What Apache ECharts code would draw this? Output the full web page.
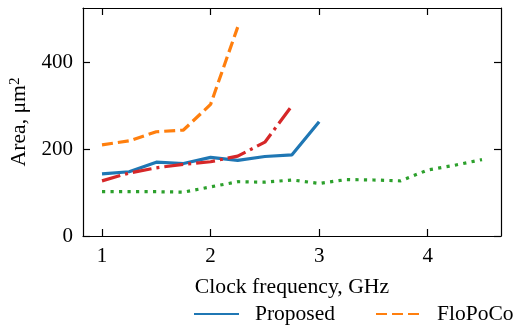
<!DOCTYPE html>
<html>
<head>
<meta charset="utf-8">
<script src="https://cdn.jsdelivr.net/npm/echarts@6/dist/echarts.min.js"></script>
<style>
html,body{margin:0;padding:0;background:#fff;}
#chart{width:514px;height:325px;}
</style>
</head>
<body>
<div id="chart"></div>
<script>
// 数据
var freqProposed = [1, 1.25, 1.5, 1.75, 2, 2.25, 2.5, 2.75, 3];
var areaProposed = [143, 148, 170, 167, 181, 174, 183, 187, 263];
var freqFlopoco = [1, 1.25, 1.5, 1.75, 2, 2.25];
var areaFlopoco = [210, 219, 240, 244, 303, 481];
var freqRed = [1, 1.25, 1.5, 1.75, 2, 2.25, 2.5, 2.75];
var areaRed = [127, 145, 157, 165, 171, 184, 216, 300];
var freqGreen = [1, 1.25, 1.5, 1.75, 2, 2.25, 2.5, 2.75, 3, 3.25, 3.5, 3.75, 4, 4.25, 4.5];
var areaGreen = [102, 102, 102, 101, 113, 125, 124, 129, 121, 130, 129, 127, 152, 163, 176];
var xTicks = [1, 2, 3, 4];
var yTicks = [0, 200, 400];

var FONT = 'Liberation Serif';

function pairs(xs, ys){
	var out = [];
	for(var i=0;i<xs.length;i++){
		out.push([xs[i], ys[i]]);
	}
	return out;
}

function mkLine(name, xs, ys, color, dash){
	return {
		name: name,
		type: 'line',
		xAxisIndex: 0,
		yAxisIndex: 0,
		showSymbol: false,
		symbol: 'none',
		color: color,
		lineStyle: {width: 3.2, color: color, type: dash, cap: 'butt'},
		data: pairs(xs, ys)
	};
}

var axisBase = {
	axisLine: {show: true, onZero: false, lineStyle: {color: '#000', width: 1.2}},
	axisTick: {show: true, inside: true, length: 7, lineStyle: {color: '#000', width: 1.2}},
	splitLine: {show: false}
};

var legendBase = {
	itemWidth: 45,
	itemHeight: 20,
	itemStyle: {opacity: 0},
	textStyle: {fontFamily: FONT, fontSize: 21.5, color: '#000', padding: [0,0,0,11]}
};

var myChart = echarts.init(document.getElementById('chart'));
var option = {
	animation: false,
	grid: {left: 83, right: 13, top: 8, bottom: 89},
	legend: [
		Object.assign({}, legendBase, {data: ['Proposed'], left: 188, top: 298}),
		Object.assign({}, legendBase, {data: ['FloPoCo'], left: 370, top: 298})
	],
	xAxis: [
		Object.assign({}, axisBase, {
			type: 'value', position: 'bottom', min: 0.825, max: 4.675,
			name: 'Clock frequency, GHz', nameLocation: 'middle', nameGap: 40,
			nameTextStyle: {fontFamily: FONT, fontSize: 21.7, color: '#000'},
			axisTick: Object.assign({}, axisBase.axisTick, {customValues: xTicks}),
			axisLabel: {customValues: xTicks, fontFamily: FONT, fontSize: 21, color: '#000', margin: 10}
		}),
		Object.assign({}, axisBase, {
			type: 'value', position: 'top', min: 0.825, max: 4.675,
			axisTick: Object.assign({}, axisBase.axisTick, {customValues: xTicks}),
			axisLabel: {show: false}
		})
	],
	yAxis: [
		Object.assign({}, axisBase, {
			type: 'value', position: 'left', min: 0, max: 525,
			name: 'Area, μm{sup|2}', nameLocation: 'middle', nameGap: 52,
			nameTextStyle: {
				fontFamily: FONT, fontSize: 21.7, color: '#000',
				rich: {sup: {fontFamily: FONT, fontSize: 15, color: '#000', verticalAlign: 'top', padding: [0,0,8,0]}}
			},
			axisTick: Object.assign({}, axisBase.axisTick, {customValues: yTicks}),
			axisLabel: {customValues: yTicks, fontFamily: FONT, fontSize: 21, color: '#000', margin: 10}
		}),
		Object.assign({}, axisBase, {
			type: 'value', position: 'right', min: 0, max: 525,
			axisTick: Object.assign({}, axisBase.axisTick, {customValues: yTicks}),
			axisLabel: {show: false}
		})
	],
	series: [
		mkLine('Proposed', freqProposed, areaProposed, '#1f77b4', 'solid'),
		mkLine('FloPoCo', freqFlopoco, areaFlopoco, '#ff7f0e', [11, 5]),
		mkLine('Variant C', freqRed, areaRed, '#d62728', [19, 5, 3, 5]),
		mkLine('Variant D', freqGreen, areaGreen, '#2ca02c', [3.2, 5.3])
	]
};
myChart.setOption(option);
</script>
</body>
</html>
